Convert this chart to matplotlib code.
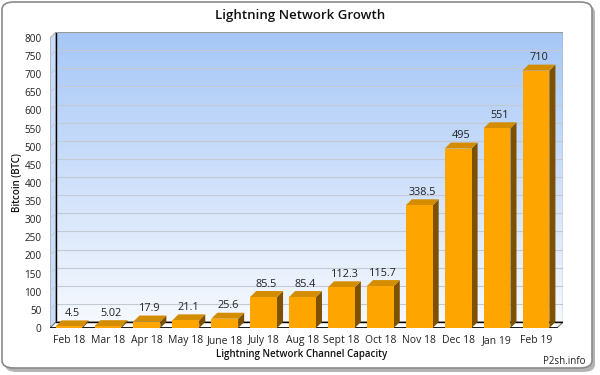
import numpy as np
import matplotlib.pyplot as plt
from matplotlib.patches import Rectangle, Polygon, FancyBboxPatch
from matplotlib.colors import LinearSegmentedColormap

plt.rcParams['font.family'] = ['Open Sans', 'DejaVu Sans']

months = ['Feb 18', 'Mar 18', 'Apr 18', 'May 18', 'June 18', 'July 18', 'Aug 18',
          'Sept 18', 'Oct 18', 'Nov 18', 'Dec 18', 'Jan 19', 'Feb 19']
capacity = [4.5, 5.02, 17.9, 21.1, 25.6, 85.5, 85.4, 112.3, 115.7, 338.5, 495, 551, 710]
value_labels = ['4.5', '5.02', '17.9', '21.1', '25.6', '85.5', '85.4',
                '112.3', '115.7', '338.5', '495', '551', '710']
y_ticks = list(range(0, 801, 50))

title = 'Lightning Network Growth'
xlabel = 'Lightning Network Channel Capacity'
ylabel = 'Bitcoin (BTC)'
credit = 'P2sh.info'

# 3d look
dx, dy = 0.155, 16.5
bar_w = 0.69
x0, x1 = -0.49, 12.54
ymax = 800

front_c = '#FFA500'
top_c = '#D48C00'
side_c = '#7E5100'

fig = plt.figure(figsize=(6, 3.75), dpi=100)

# outer frame with shadow
shadow = FancyBboxPatch((5 / 600, 3 / 375), 590 / 600, 367 / 375,
                        boxstyle='round,pad=0,rounding_size=0.02',
                        transform=fig.transFigure, fc='#b4b4b4', ec='none', zorder=-2)
frame = FancyBboxPatch((2 / 600, 7 / 375), 590 / 600, 366 / 375,
                       boxstyle='round,pad=0,rounding_size=0.02',
                       transform=fig.transFigure, fc='white', ec='#8a8a8a', lw=1.2, zorder=-1)
fig.patches.extend([shadow, frame])

ax = fig.add_axes([50 / 600, 47 / 375, 513 / 600, 296 / 375])
ax.set_xlim(x0, x1 + dx)
ax.set_ylim(0, ymax + dy)
ax.patch.set_alpha(0)
for s in ax.spines.values():
    s.set_visible(False)

# back wall gradient
grad = np.linspace(0, 1, 256).reshape(-1, 1)
cmap = LinearSegmentedColormap.from_list('wall', ['#F6F9FE', '#A6C7F7'])
ax.imshow(grad, cmap=cmap, origin='lower', aspect='auto',
          extent=(x0 + dx, x1 + dx, dy, ymax + dy), zorder=0)
# left side wall
side_wall = Polygon([(x0, 0), (x0 + dx, dy), (x0 + dx, ymax + dy), (x0, ymax)],
                    closed=True, fc='#C9DDF9', ec='#9a9a9a', lw=0.8, zorder=0.5)
ax.add_patch(side_wall)

# grid lines
for t in y_ticks[1:]:
    ax.plot([x0 + dx, x1 + dx], [t + dy, t + dy], color='#C4CAD4', lw=0.8, zorder=1)
    ax.plot([x0, x0 + dx], [t, t + dy], color='#C4CAD4', lw=0.6, zorder=1)

# wall borders
ax.plot([x0 + dx, x0 + dx], [dy, ymax + dy], color='black', lw=1.0, zorder=1.5)
ax.plot([x1 + dx, x1 + dx], [dy, ymax + dy], color='#9a9a9a', lw=1.0, zorder=1.5)
ax.plot([x0 + dx, x1 + dx], [ymax + dy, ymax + dy], color='#9a9a9a', lw=0.8, zorder=1.5)

# floor
floor = Polygon([(x0, 0), (x0 + dx, dy), (x1 + dx, dy), (x1, 0)], closed=True,
                fc='white', ec='#777777', lw=0.8, zorder=1.6)
ax.add_patch(floor)
ax.plot([x0 + dx, x1 + dx], [dy, dy], color='black', lw=1.0, zorder=1.7)
ax.plot([x0, x1], [0, 0], color='black', lw=1.2, zorder=1.7)

# bars
for i, v in enumerate(capacity):
    l, r = i - bar_w / 2, i + bar_w / 2
    ax.add_patch(Polygon([(r, 0), (r + dx, dy), (r + dx, v + dy), (r, v)], closed=True,
                         fc=side_c, ec='none', zorder=3))
    ax.add_patch(Polygon([(l, v), (l + dx, v + dy), (r + dx, v + dy), (r, v)], closed=True,
                         fc=top_c, ec='none', zorder=3))
    ax.add_patch(Rectangle((l, 0), bar_w, v, fc=front_c, ec='none', zorder=3))
    ax.text(i + dx / 2, v + dy + 4, value_labels[i], ha='center', va='bottom',
            fontsize=7.8, color='#222222', zorder=4)

ax.set_xticks(range(len(months)))
ax.set_xticklabels(months, fontsize=7.5, color='#222222')
ax.set_yticks(y_ticks)
ax.set_yticklabels([str(t) for t in y_ticks], fontsize=7.2, color='#222222')
ax.tick_params(length=0)
ax.tick_params(axis='x', pad=5)
ax.tick_params(axis='y', pad=6)

fig.text(0.5, 1 - 15 / 375, title, ha='center', va='center', fontsize=9.5,
         fontweight='semibold', color='#111111')
fig.text(302 / 600, 1 - 354 / 375, xlabel, ha='center', va='center', fontsize=7,
         fontweight='semibold', color='#111111')
fig.text(17 / 600, 1 - 183 / 375, ylabel, ha='center', va='center', rotation=90,
         fontsize=7, fontweight='semibold', color='#111111')
fig.text(586 / 600, 1 - 362 / 375, credit, ha='right', va='center', fontsize=7,
         color='#222222')

fig.savefig('out.png', dpi=100)
